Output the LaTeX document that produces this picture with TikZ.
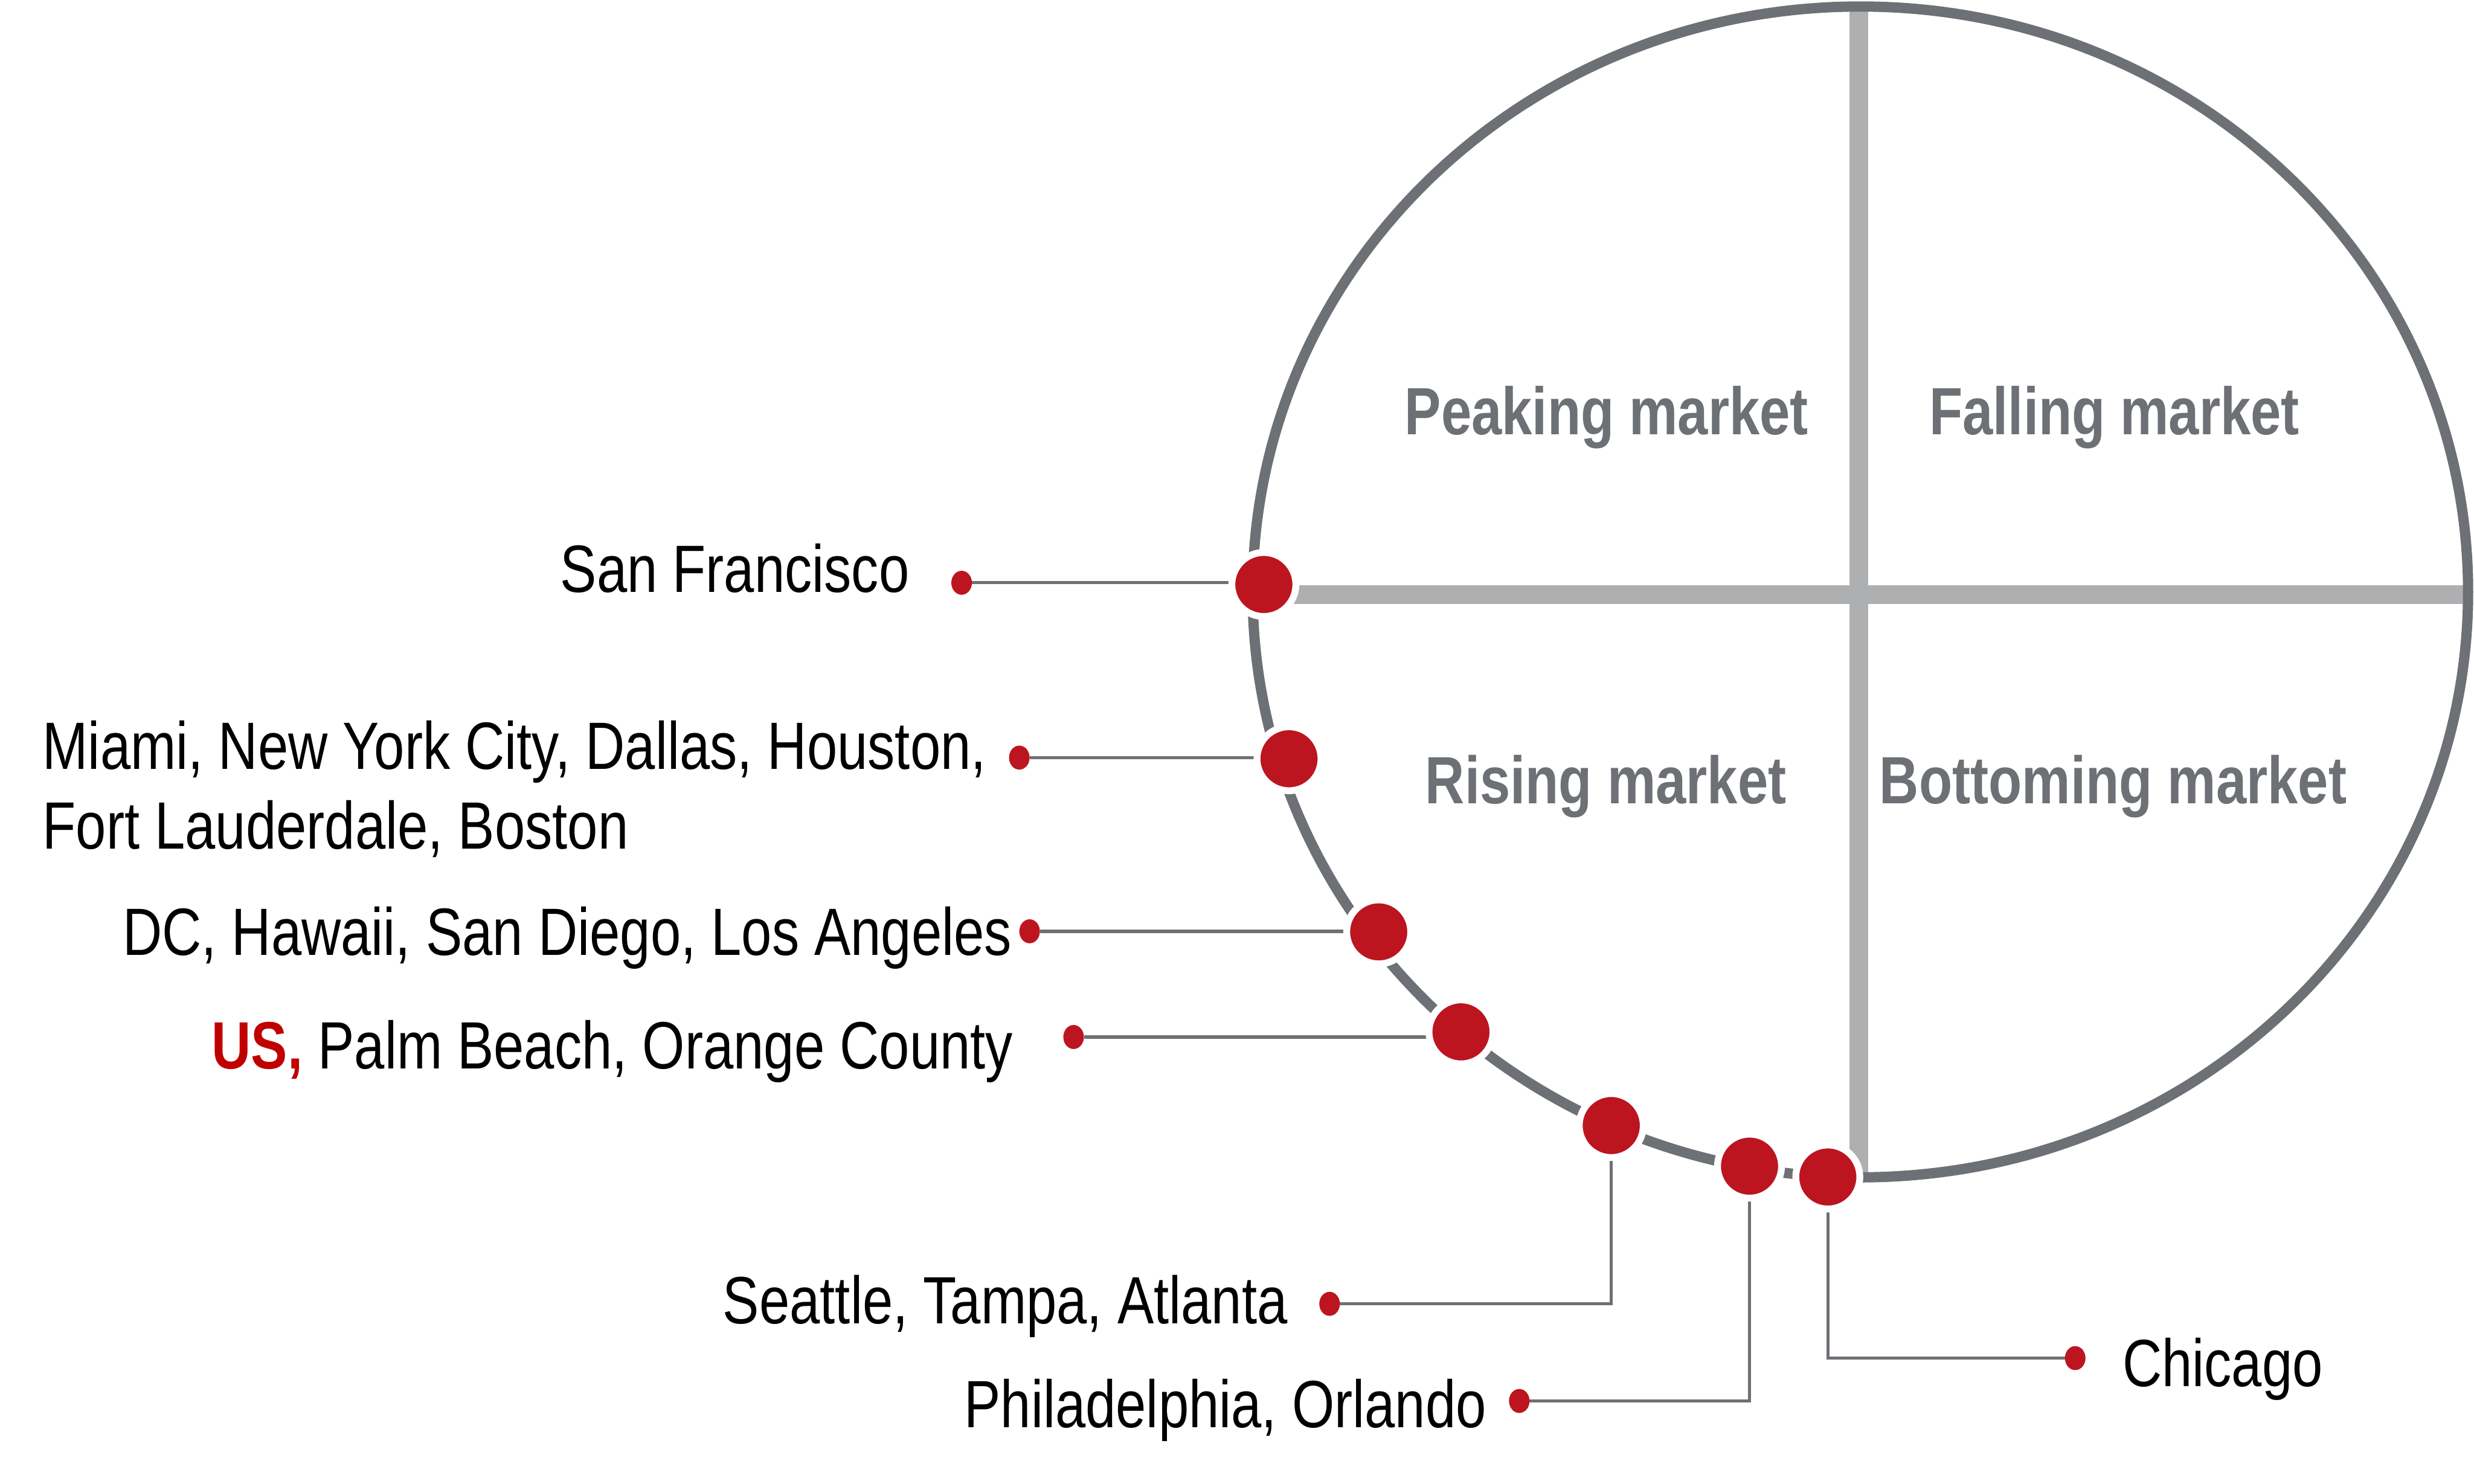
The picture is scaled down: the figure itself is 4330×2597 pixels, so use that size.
\documentclass[tikz,border=0pt]{standalone}
\usepackage{fontspec}
\setmainfont{Liberation Sans}[FakeStretch=0.816]
\usetikzlibrary{shapes.geometric,backgrounds}
\definecolor{outl}{HTML}{6D7074}
\definecolor{quad}{HTML}{AEAFB1}
\definecolor{dotred}{HTML}{BC1520}
\definecolor{usred}{HTML}{C00000}
\begin{document}
\begin{tikzpicture}[x=0.01cm,y=-0.01cm,
  bigdot/.style={circle, fill=dotred, draw=white, line width=0.12cm, minimum size=1.12cm, inner sep=0pt, outer sep=0pt},
  smalldot/.style={ellipse, fill=dotred, minimum width=0.36cm, minimum height=0.42cm, inner sep=0pt, outer sep=0pt},
  conn/.style={draw=outl, line width=0.055cm},
  city/.style={inner sep=0pt, font=\fontsize{33.3pt}{40pt}\selectfont, text=black},
  quadlbl/.style={inner sep=0pt, font=\fontsize{33.3pt}{40pt}\selectfont\bfseries, text=outl},
  quadline/.style={draw=quad, line width=0.33cm},
  rim/.style={draw=outl, line width=0.18cm}]
\useasboundingbox (0,0) rectangle (4330,2597);
\coordinate (C) at (3256,1036);
\coordinate (hl) at (2212,1041);
\coordinate (hr) at (4315,1041);
\coordinate (vt) at (3253,12);
\coordinate (vb) at (3253,2060);

% big dots
\node[bigdot] (sfB) at (2212,1023) {};
\node[bigdot] (miB) at (2256,1328) {};
\node[bigdot] (dcB) at (2413,1631) {};
\node[bigdot] (usB) at (2557,1806) {};
\node[bigdot] (seB) at (2820,1970) {};
\node[bigdot] (phB) at (3062,2041) {};
\node[bigdot] (chB) at (3199,2060) {};

% small dots
\node[smalldot] (sfS) at (1683,1020) {};
\node[smalldot] (miS) at (1784,1326) {};
\node[smalldot] (dcS) at (1802,1630) {};
\node[smalldot] (usS) at (1879,1815) {};
\node[smalldot] (seS) at (2327,2282) {};
\node[smalldot] (phS) at (2659,2452) {};
\node[smalldot] (chS) at (3632,2377) {};

\begin{scope}[on background layer]
  \draw[quadline] (hl) -- (hr);
  \draw[quadline] (vt) -- (vb);
  \draw[rim] (C) ellipse [x radius=10.63cm, y radius=10.24cm];
  \draw[conn] (sfS) -- (sfS -| sfB);
  \draw[conn] (miS) -- (miS -| miB);
  \draw[conn] (dcS) -- (dcS -| dcB);
  \draw[conn] (usS) -- (usS -| usB);
  \draw[conn] (seB) |- (seS);
  \draw[conn] (phB) |- (phS);
  \draw[conn] (chB) |- (chS);
\end{scope}

% city labels
\node[city, anchor=base west] (sfT) at (980,1037) {San Francisco};
\node[city, anchor=base west] (miT1) at (74,1346) {Miami, New York City, Dallas, Houston,};
\node[city, anchor=base west] (miT2) at (74,1486) {Fort Lauderdale, Boston};
\node[city, anchor=base west] (dcT) at (214,1672) {DC, Hawaii, San Diego, Los Angeles};
\node[city, anchor=base west] (usT) at (370,1871) {\textcolor{usred}{\bfseries US,} Palm Beach, Orange County};
\node[city, anchor=base east] (seT) at (2254,2317) {Seattle, Tampa, Atlanta};
\node[city, anchor=base west] (phT) at (1687,2499) {Philadelphia, Orlando};
\node[city, anchor=base west] (chT) at (3714,2427) {Chicago};

% quadrant labels
\node[quadlbl, anchor=base west] (pk) at (2458,761) {Peaking market};
\node[quadlbl, anchor=base west] (fl) at (3376,761) {Falling market};
\node[quadlbl, anchor=base west] (rs) at (2494,1406) {Rising market};
\node[quadlbl, anchor=base west] (bt) at (3289,1406) {Bottoming market};
\end{tikzpicture}
\end{document}
